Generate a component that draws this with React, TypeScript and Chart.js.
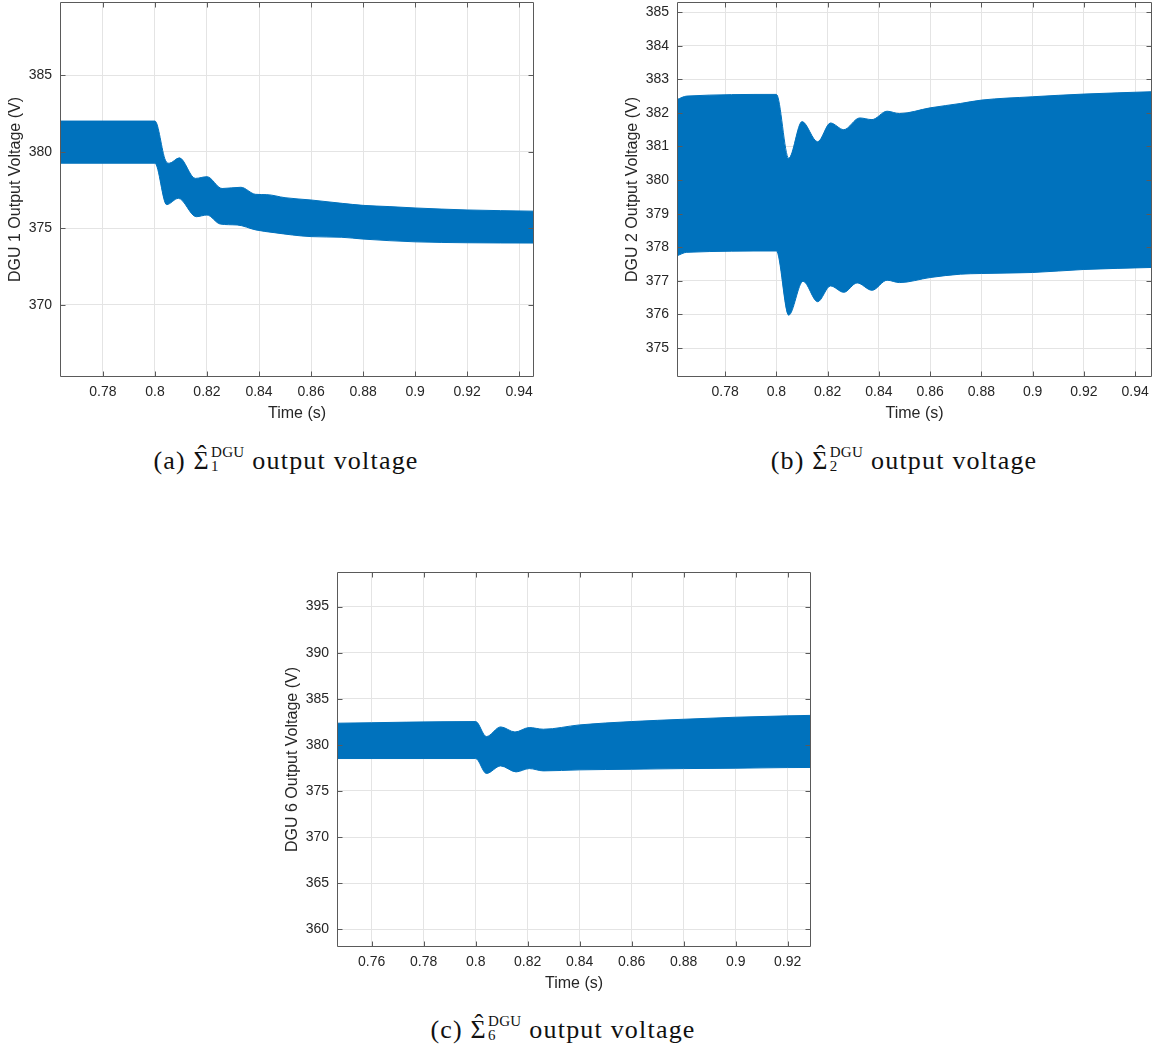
import React, { useEffect, useRef } from 'react';
import { Chart, registerables } from 'chart.js';

Chart.register(...registerables);

// ---------------- Data ----------------
// DGU 1 envelope of the output voltage ripple band
const dgu1UpperT = [0.7635, 0.8, 0.804, 0.8055, 0.8094, 0.8155, 0.82, 0.8258, 0.833, 0.8387, 0.843, 0.85, 0.86, 0.872, 0.88, 0.89, 0.9, 0.92, 0.9458];
const dgu1UpperV = [382.0, 382.0, 379.45, 379.25, 379.6, 378.26, 378.37, 377.6, 377.68, 377.22, 377.2, 377.0, 376.85, 376.63, 376.5, 376.42, 376.33, 376.2, 376.12];
const dgu1LowerT = [0.7635, 0.8, 0.8045, 0.809, 0.8159, 0.82, 0.8251, 0.8316, 0.8387, 0.8458, 0.86, 0.8716, 0.88, 0.9, 0.92, 0.9458];
const dgu1LowerV = [379.25, 379.25, 376.55, 376.96, 375.76, 375.87, 375.28, 375.22, 374.9, 374.72, 374.46, 374.42, 374.3, 374.12, 374.06, 374.04];

// DGU 2
const dgu2UpperT = [0.7613, 0.765, 0.8, 0.8048, 0.81, 0.8161, 0.8211, 0.8263, 0.8325, 0.8373, 0.8432, 0.848, 0.86, 0.8718, 0.88, 0.9, 0.92, 0.9466];
const dgu2UpperV = [382.4, 382.5, 382.55, 380.65, 381.74, 381.14, 381.7, 381.5, 381.85, 381.8, 382.05, 381.98, 382.15, 382.28, 382.38, 382.48, 382.56, 382.63];
const dgu2LowerT = [0.7613, 0.765, 0.8, 0.8048, 0.8104, 0.8161, 0.8211, 0.8263, 0.8315, 0.8373, 0.8432, 0.848, 0.86, 0.8718, 0.88, 0.9, 0.92, 0.9466];
const dgu2LowerV = [377.75, 377.85, 377.89, 375.98, 376.99, 376.38, 376.85, 376.66, 376.94, 376.72, 377.02, 376.95, 377.1, 377.2, 377.22, 377.25, 377.34, 377.4];

// DGU 6
const dgu6UpperT = [0.7466, 0.8, 0.8041, 0.8096, 0.8151, 0.8206, 0.826, 0.84, 0.86, 0.88, 0.9, 0.92, 0.929];
const dgu6UpperV = [382.35, 382.53, 380.9, 381.95, 381.4, 381.88, 381.7, 382.17, 382.53, 382.78, 383.0, 383.15, 383.2];
const dgu6LowerT = [0.7466, 0.8, 0.8041, 0.8096, 0.8155, 0.8206, 0.826, 0.84, 0.86, 0.88, 0.9, 0.92, 0.929];
const dgu6LowerV = [378.52, 378.52, 376.9, 377.72, 377.07, 377.43, 377.18, 377.29, 377.36, 377.43, 377.47, 377.54, 377.55];

// Tick values
const xTicksAB = [0.78, 0.8, 0.82, 0.84, 0.86, 0.88, 0.9, 0.92, 0.94];
const xTicksC = [0.76, 0.78, 0.8, 0.82, 0.84, 0.86, 0.88, 0.9, 0.92];
const yTicks1 = [370, 375, 380, 385];
const yTicks2 = [375, 376, 377, 378, 379, 380, 381, 382, 383, 384, 385];
const yTicks6 = [360, 365, 370, 375, 380, 385, 390, 395];

// Axis ranges
const xRange1 = [0.7635, 0.9457];
const yRange1 = [365.3, 389.77];
const xRange2 = [0.7612, 0.9466];
const yRange2 = [374.14, 385.3];
const xRange6 = [0.74665, 0.92896];
const yRange6 = [358.08, 398.75];

// ---------------- Styling ----------------
const BLUE = '#0072BD';
const AXIS = '#5a5a5a';
const GRID = '#e4e4e4';
const TEXT = '#262626';
const SANS = '"Liberation Sans", Arial, Helvetica, sans-serif';

const Y_AXIS_W = 54;
const X_AXIS_H = 46;

const boxPlugin = {
  id: 'matlabBox',
  afterDraw(chart: any) {
    const { ctx, chartArea: a, scales } = chart;
    const L = Math.round(a.left) + 0.5;
    const R = Math.round(a.right) - 0.5;
    const T = Math.round(a.top) + 0.5;
    const B = Math.round(a.bottom) - 0.5;
    const len = 5;
    ctx.save();
    ctx.strokeStyle = AXIS;
    ctx.lineWidth = 1;
    ctx.beginPath();
    ctx.rect(L, T, R - L, B - T);
    for (const t of scales.x.ticks) {
      const px = Math.round(scales.x.getPixelForValue(t.value)) + 0.5;
      ctx.moveTo(px, B);
      ctx.lineTo(px, B - len);
      ctx.moveTo(px, T);
      ctx.lineTo(px, T + len);
    }
    for (const t of scales.y.ticks) {
      const py = Math.round(scales.y.getPixelForValue(t.value)) + 0.5;
      ctx.moveTo(L, py);
      ctx.lineTo(L + len, py);
      ctx.moveTo(R, py);
      ctx.lineTo(R - len, py);
    }
    ctx.stroke();
    ctx.restore();
  },
};

type PanelProps = {
  left: number;
  top: number;
  width: number;
  height: number;
  padRight: number;
  upperT: number[];
  upperV: number[];
  lowerT: number[];
  lowerV: number[];
  xRange: number[];
  yRange: number[];
  xTicks: number[];
  yTicks: number[];
  yTitle: string;
};

function Panel(p: PanelProps) {
  const ref = useRef<HTMLCanvasElement | null>(null);
  useEffect(() => {
    if (!ref.current) return;
    const upper = p.upperT.map((t, i) => ({ x: t, y: p.upperV[i] }));
    const lower = p.lowerT.map((t, i) => ({ x: t, y: p.lowerV[i] }));
    const chart = new Chart(ref.current, {
      type: 'line',
      data: {
        datasets: [
          {
            data: upper,
            borderColor: BLUE,
            backgroundColor: BLUE,
            borderWidth: 1,
            pointRadius: 0,
            fill: '+1',
            cubicInterpolationMode: 'monotone',
          },
          {
            data: lower,
            borderColor: BLUE,
            backgroundColor: BLUE,
            borderWidth: 1,
            pointRadius: 0,
            fill: false,
            cubicInterpolationMode: 'monotone',
          },
        ],
      },
      options: {
        animation: false,
        responsive: false,
        events: [],
        layout: { padding: { left: 0, top: 2, right: p.padRight, bottom: 4 } },
        plugins: { legend: { display: false }, tooltip: { enabled: false } },
        scales: {
          x: {
            type: 'linear',
            min: p.xRange[0],
            max: p.xRange[1],
            afterBuildTicks: (s: any) => {
              s.ticks = p.xTicks.map((v) => ({ value: v }));
            },
            afterFit: (s: any) => {
              s.height = X_AXIS_H;
              s.paddingLeft = 0;
              s.paddingRight = 0;
            },
            grid: { color: GRID, lineWidth: 1, drawTicks: false },
            border: { display: false },
            ticks: {
              autoSkip: false,
              maxRotation: 0,
              padding: 7,
              color: TEXT,
              font: { family: SANS, size: 14 },
              callback: (v: any) => String(Number(Number(v).toFixed(2))),
            },
            title: {
              display: true,
              text: 'Time (s)',
              color: TEXT,
              font: { family: SANS, size: 16 },
              padding: { top: 0, bottom: 0 },
            },
          },
          y: {
            type: 'linear',
            min: p.yRange[0],
            max: p.yRange[1],
            afterBuildTicks: (s: any) => {
              s.ticks = p.yTicks.map((v) => ({ value: v }));
            },
            afterFit: (s: any) => {
              s.width = Y_AXIS_W;
              s.paddingTop = 0;
              s.paddingBottom = 0;
            },
            grid: { color: GRID, lineWidth: 1, drawTicks: false },
            border: { display: false },
            ticks: {
              autoSkip: false,
              padding: 8,
              color: TEXT,
              font: { family: SANS, size: 14 },
              callback: (v: any) => String(v),
            },
            title: {
              display: true,
              text: p.yTitle,
              color: TEXT,
              font: { family: SANS, size: 16 },
              padding: { top: 0, bottom: 0 },
            },
          },
        },
      },
      plugins: [boxPlugin],
    } as any);
    return () => chart.destroy();
  }, []);
  return (
    <canvas
      ref={ref}
      width={p.width}
      height={p.height}
      style={{ position: 'absolute', left: p.left, top: p.top, width: p.width, height: p.height }}
    />
  );
}

function Caption({ label, sub, center, top }: { label: string; sub: string; center: number; top: number }) {
  return (
    <div
      style={{
        position: 'absolute',
        left: center - 250,
        top,
        width: 500,
        textAlign: 'center',
        fontFamily: '"Liberation Serif", "Times New Roman", serif',
        fontSize: 26,
        letterSpacing: '1.2px',
        lineHeight: '30px',
        color: '#111',
        whiteSpace: 'nowrap',
      }}
    >
      ({label}){' '}
      <span style={{ position: 'relative', display: 'inline-block' }}>
        {'\u03A3'}
        <span
          style={{
            position: 'absolute',
            left: 0,
            right: 0,
            top: -6,
            textAlign: 'center',
            letterSpacing: 0,
          }}
        >
          {'\u02C6'}
        </span>
      </span>
      <span
        style={{
          display: 'inline-block',
          verticalAlign: '-2px',
          fontSize: 15,
          lineHeight: '14px',
          letterSpacing: '0.4px',
          textAlign: 'left',
          marginLeft: 1,
        }}
      >
        <span style={{ display: 'block' }}>DGU</span>
        <span style={{ display: 'block' }}>{sub}</span>
      </span>{' '}
      output voltage
    </div>
  );
}

export default function App() {
  return (
    <div
      style={{
        position: 'absolute',
        left: 0,
        top: 0,
        width: 1165,
        height: 1044,
        overflow: 'hidden',
        background: '#fff',
      }}
    >
      <Panel
        left={6}
        top={0}
        width={548}
        height={427}
        padRight={20}
        upperT={dgu1UpperT}
        upperV={dgu1UpperV}
        lowerT={dgu1LowerT}
        lowerV={dgu1LowerV}
        xRange={xRange1}
        yRange={yRange1}
        xTicks={xTicksAB}
        yTicks={yTicks1}
        yTitle="DGU 1 Output Voltage (V)"
      />
      <Panel
        left={623}
        top={0}
        width={541}
        height={427}
        padRight={12}
        upperT={dgu2UpperT}
        upperV={dgu2UpperV}
        lowerT={dgu2LowerT}
        lowerV={dgu2LowerV}
        xRange={xRange2}
        yRange={yRange2}
        xTicks={xTicksAB}
        yTicks={yTicks2}
        yTitle="DGU 2 Output Voltage (V)"
      />
      <Panel
        left={283}
        top={570}
        width={548}
        height={427}
        padRight={20}
        upperT={dgu6UpperT}
        upperV={dgu6UpperV}
        lowerT={dgu6LowerT}
        lowerV={dgu6LowerV}
        xRange={xRange6}
        yRange={yRange6}
        xTicks={xTicksC}
        yTicks={yTicks6}
        yTitle="DGU 6 Output Voltage (V)"
      />
      <Caption label="a" sub="1" center={286} top={445} />
      <Caption label="b" sub="2" center={904} top={445} />
      <Caption label="c" sub="6" center={563} top={1014} />
    </div>
  );
}
